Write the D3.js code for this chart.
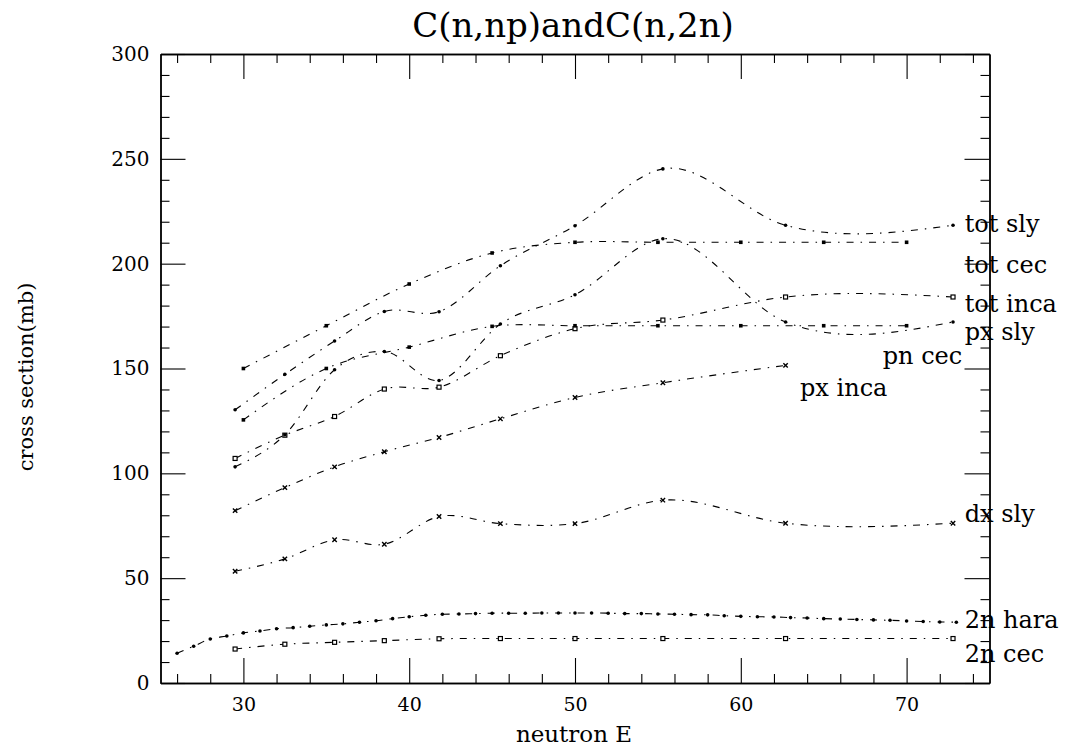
<!DOCTYPE html>
<html><head><meta charset="utf-8">
<script src="https://cdn.jsdelivr.net/npm/d3@7"></script>
<style>body{margin:0;background:#fff} svg{display:block}</style>
</head><body><svg id="c" width="1065" height="750"></svg>
<script>
// ---------- data ----------
const xSly = [29.5, 32.5, 35.5, 38.5, 41.8, 45.5, 50, 55.3, 62.7, 72.8];
const xCec = [30, 35, 40, 45, 50, 55, 60, 65, 70];
const xPxInca = [29.5, 32.5, 35.5, 38.5, 41.8, 45.5, 50, 55.3, 62.7];
const xHara = [26,27,28,29,30,31,32,33,34,35,36,37,38,39,40,41,42,43,44,45,46,47,48,49,50,
               51,52,53,54,55,56,57,58,59,60,61,62,63,64,65,66,67,68,69,70,71,72,73];

const totSly  = [130.3, 147.2, 163.1, 177.2, 177.1, 199.0, 218.1, 245.2, 218.3, 218.3];
const totCec  = [150.0, 170.4, 190.3, 205.1, 210.2, 210.2, 210.2, 210.2, 210.2];
const totInca = [107.1, 118.2, 127.1, 140.2, 141.1, 156.1, 169.0, 173.1, 184.1, 184.1];
const pxSly   = [103.1, 118.4, 149.4, 158.1, 144.3, 171.2, 185.2, 211.9, 172.2, 172.2];
const pnCec   = [125.5, 150.0, 160.2, 170.1, 170.4, 170.4, 170.4, 170.4, 170.4];
const pxInca  = [82.2, 93.2, 103.1, 110.3, 117.1, 126.0, 136.2, 143.2, 151.5];
const dxSly   = [53.3, 59.2, 68.3, 66.2, 79.4, 76.0, 76.0, 87.2, 76.2, 76.2];
const n2Hara  = [14.2,17.5,21.0,22.4,23.9,24.8,25.9,26.4,27.1,27.7,28.2,29.0,29.7,30.7,31.6,32.3,
                 32.8,32.9,33.1,33.3,33.3,33.3,33.4,33.4,33.4,33.4,33.3,33.1,33.1,32.9,32.8,32.6,
                 32.5,32.1,31.8,31.6,31.5,31.2,31.0,30.7,30.5,30.3,30.1,29.9,29.6,29.3,29.1,29.0];
const n2Cec   = [16.2, 18.5, 19.4, 20.2, 21.1, 21.2, 21.2, 21.2, 21.2, 21.2];

const seriesNames = ["tot sly","tot cec","tot inca","px sly","pn cec","px inca","dx sly","2n hara","2n cec"];
// label anchors in data units (x, y)
const labelX = [73.5, 73.5, 73.5, 73.5, 68.56, 63.57, 73.5, 73.5, 73.5];
const labelY = [215.3, 195.6, 176.8, 163.4, 152.1, 136.7, 77.0, 26.1, 10.2];

const xMajor = [30, 40, 50, 60, 70];
const xMinor = [26,28,32,34,36,38,42,44,46,48,52,54,56,58,62,64,66,68,72,74];
const yMajor = [0, 50, 100, 150, 200, 250, 300];
const yMinor = [10,20,30,40,60,70,80,90,110,120,130,140,160,170,180,190,210,220,230,240,260,270,280,290];

const titleText = "C(n,np)andC(n,2n)";
const xTitle = "neutron E";
const yTitle = "cross section(mb)";

// ---------- drawing ----------
const svg = d3.select("#c");
const L = 160.5, R = 989.5, T = 54, B = 683;
const x = d3.scaleLinear().domain([25, 75]).range([L, R]);
const y = d3.scaleLinear().domain([0, 300]).range([B, T]);
const serif = "DejaVu Serif";

const series = [
  {name: seriesNames[0], xs: xSly,   ys: totSly,  m: "dot"},
  {name: seriesNames[1], xs: xCec,   ys: totCec,  m: "fsq"},
  {name: seriesNames[2], xs: xSly,   ys: totInca, m: "sq"},
  {name: seriesNames[3], xs: xSly,   ys: pxSly,   m: "dot"},
  {name: seriesNames[4], xs: xCec,   ys: pnCec,   m: "fsq"},
  {name: seriesNames[5], xs: xPxInca,ys: pxInca,  m: "x"},
  {name: seriesNames[6], xs: xSly,   ys: dxSly,   m: "x"},
  {name: seriesNames[7], xs: xHara,  ys: n2Hara,  m: "dot"},
  {name: seriesNames[8], xs: xSly,   ys: n2Cec,   m: "sq"}
];

// smooth y(x) interpolation (parabolic / Bessel tangents), emitted as exact Bezier segments
function splinePath(px, py) {
  const n = px.length - 1;
  const h = [], s = [];
  for (let i = 0; i < n; i++) { h[i] = px[i+1] - px[i]; s[i] = (py[i+1] - py[i]) / h[i]; }
  const m = new Array(n + 1);
  for (let i = 1; i < n; i++) m[i] = (h[i] * s[i-1] + h[i-1] * s[i]) / (h[i-1] + h[i]);
  if (n === 1) { m[0] = m[1] = s[0]; }
  else {
    m[0] = (3 * s[0] - m[1]) / 2;
    m[n] = (3 * s[n-1] - m[n-1]) / 2;
  }
  const p = d3.path();
  p.moveTo(px[0], py[0]);
  for (let i = 0; i < n; i++) {
    const k = h[i] / 3;
    p.bezierCurveTo(px[i] + k, py[i] + m[i] * k, px[i+1] - k, py[i+1] - m[i+1] * k, px[i+1], py[i+1]);
  }
  return p.toString();
}

const gL = svg.append("g");
series.forEach(s => {
  const pxs = s.xs.map(v => x(v)), pys = s.ys.map(v => y(v));
  gL.append("path").attr("d", splinePath(pxs, pys)).attr("fill", "none")
    .attr("stroke", "#000").attr("stroke-width", 1.1)
    .attr("stroke-dasharray", "7,7,1.5,7");
  const g = gL.append("g");
  pxs.forEach((cx, i) => {
    const cy = pys[i];
    if (s.m === "dot") {
      g.append("circle").attr("cx", cx).attr("cy", cy).attr("r", 1.8).attr("fill", "#000");
    } else if (s.m === "fsq") {
      g.append("rect").attr("x", cx - 1.8).attr("y", cy - 1.8).attr("width", 3.6).attr("height", 3.6).attr("fill", "#000");
    } else if (s.m === "sq") {
      g.append("rect").attr("x", cx - 2).attr("y", cy - 2).attr("width", 4).attr("height", 4)
        .attr("fill", "#fff").attr("stroke", "#000").attr("stroke-width", 1.2);
    } else {
      g.append("path").attr("d", `M${cx-2.2},${cy-2.2}L${cx+2.2},${cy+2.2}M${cx-2.2},${cy+2.2}L${cx+2.2},${cy-2.2}`)
        .attr("stroke", "#000").attr("stroke-width", 1.4);
    }
  });
});

// labels
series.forEach((s, i) => {
  svg.append("text").attr("x", x(labelX[i])).attr("y", y(labelY[i]))
    .attr("font-family", serif).attr("font-size", 24).attr("fill", "#000")
    .text(s.name);
});

// axes (ticks inward)
function styleAxis(g) {
  g.selectAll("path.domain").attr("stroke", "#000").attr("stroke-width", 1.4);
  g.selectAll(".tick line").attr("stroke", "#000").attr("stroke-width", 1.1);
  g.selectAll("text").attr("font-family", serif).attr("font-size", 19).attr("fill", "#000");
}
const axB = svg.append("g").attr("transform", `translate(0,${B})`)
  .call(d3.axisBottom(x).tickValues(xMajor).tickSize(-25).tickSizeOuter(0).tickPadding(15).tickFormat(d3.format("d")));
styleAxis(axB);
const axBm = svg.append("g").attr("transform", `translate(0,${B})`)
  .call(d3.axisBottom(x).tickValues(xMinor).tickSize(-9).tickSizeOuter(0).tickFormat(""));
styleAxis(axBm);
const axT = svg.append("g").attr("transform", `translate(0,${T})`)
  .call(d3.axisTop(x).tickValues(xMajor).tickSize(-25).tickSizeOuter(0).tickFormat(""));
styleAxis(axT);
const axTm = svg.append("g").attr("transform", `translate(0,${T})`)
  .call(d3.axisTop(x).tickValues(xMinor).tickSize(-9).tickSizeOuter(0).tickFormat(""));
styleAxis(axTm);
const axLf = svg.append("g").attr("transform", `translate(${L},0)`)
  .call(d3.axisLeft(y).tickValues(yMajor).tickSize(-25).tickSizeOuter(0).tickPadding(11).tickFormat(d3.format("d")));
styleAxis(axLf);
axLf.selectAll(".tick text").attr("font-size", 20);
const axLm = svg.append("g").attr("transform", `translate(${L},0)`)
  .call(d3.axisLeft(y).tickValues(yMinor).tickSize(-9).tickSizeOuter(0).tickFormat(""));
styleAxis(axLm);
const axR = svg.append("g").attr("transform", `translate(${R},0)`)
  .call(d3.axisRight(y).tickValues(yMajor).tickSize(-25).tickSizeOuter(0).tickFormat(""));
styleAxis(axR);
const axRm = svg.append("g").attr("transform", `translate(${R},0)`)
  .call(d3.axisRight(y).tickValues(yMinor).tickSize(-9).tickSizeOuter(0).tickFormat(""));
styleAxis(axRm);

// titles
svg.append("text").attr("x", 573).attr("y", 37).attr("text-anchor", "middle")
  .attr("font-family", serif).attr("font-size", 34).attr("fill", "#000").text(titleText);
svg.append("text").attr("x", 574).attr("y", 742).attr("text-anchor", "middle")
  .attr("font-family", serif).attr("font-size", 23).attr("fill", "#000").text(xTitle);
svg.append("text").attr("transform", "translate(33,377) rotate(-90)").attr("text-anchor", "middle")
  .attr("font-family", serif).attr("font-size", 21).attr("fill", "#000").text(yTitle);
</script>
</body></html>
